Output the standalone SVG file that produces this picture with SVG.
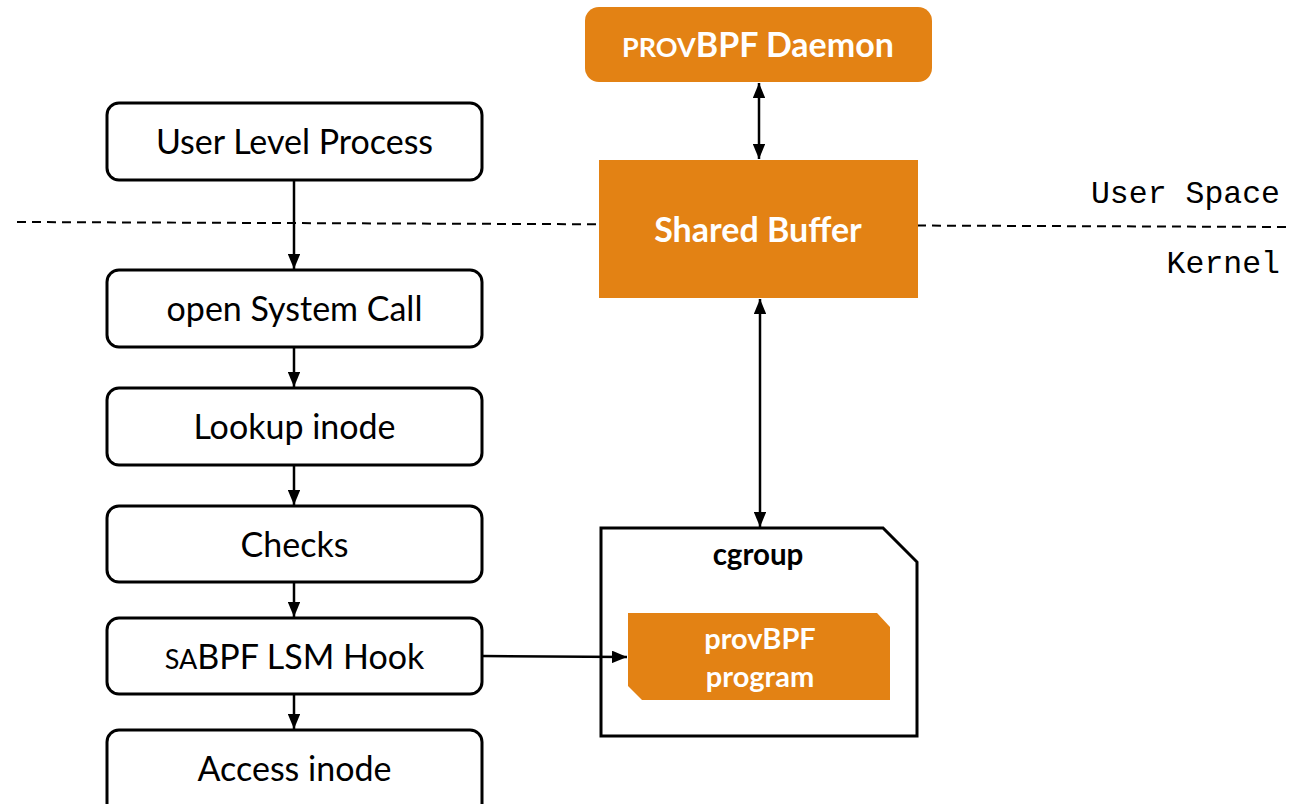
<svg xmlns="http://www.w3.org/2000/svg" width="1289" height="804" viewBox="0 0 1289 804">
<defs>
<marker id="ah" viewBox="0 0 12 10" refX="12" refY="5" markerWidth="6" markerHeight="5" orient="auto-start-reverse" markerUnits="strokeWidth">
<path d="M0,0 L12,5 L0,10 z" fill="#000"/>
</marker>
<style>
.box{fill:#fff;stroke:#000;stroke-width:3}
.lbl{font-family:Lato,"Open Sans",sans-serif;font-size:34px;fill:#000;text-anchor:middle}
.org{fill:#E38214}
.wb{font-family:Lato,"Open Sans",sans-serif;font-weight:bold;fill:#fff;text-anchor:middle}
.mono{font-family:"Liberation Mono",monospace;font-size:31.5px;fill:#000;text-anchor:end}
.conn{stroke:#000;stroke-width:2.5;fill:none}
</style>
</defs>
<rect width="1289" height="804" fill="#fff"/>
<g id="divider">
<line x1="17" y1="222" x2="1289" y2="227" stroke="#000" stroke-width="2" stroke-dasharray="9,6"/>
<text class="mono" x="1280" y="203">User Space</text>
<text class="mono" x="1280" y="273">Kernel</text>
</g>
<g id="n1"><rect class="box" x="107" y="103" width="375" height="77" rx="12"/><text class="lbl" x="294.5" y="154">User Level Process</text></g>
<g id="n2"><rect class="box" x="107" y="270" width="375" height="77" rx="12"/><text class="lbl" x="294.5" y="321">open System Call</text></g>
<g id="n3"><rect class="box" x="107" y="388" width="375" height="77" rx="12"/><text class="lbl" x="294.5" y="439">Lookup inode</text></g>
<g id="n4"><rect class="box" x="107" y="506" width="375" height="76" rx="12"/><text class="lbl" x="294.5" y="557">Checks</text></g>
<g id="n5"><rect class="box" x="107" y="618" width="375" height="76" rx="12"/><text class="lbl" x="294.5" y="669"><tspan font-size="27px">SA</tspan>BPF LSM Hook</text></g>
<g id="n6"><rect class="box" x="107" y="730" width="375" height="90" rx="12"/><text class="lbl" x="294.5" y="781">Access inode</text></g>
<g id="daemon"><rect class="org" x="585" y="7" width="347" height="75" rx="14"/><text class="wb" x="758" y="57" font-size="34px"><tspan font-size="27px">PROV</tspan>BPF Daemon</text></g>
<g id="buffer"><rect class="org" x="599" y="160" width="319" height="138"/><text class="wb" x="758" y="242" font-size="34px">Shared Buffer</text></g>
<g id="cgroup">
<path d="M601,528 L883,528 L917,562 L917,736 L601,736 Z" fill="#fff" stroke="#000" stroke-width="3"/>
<text x="758" y="565" font-family="Lato,'Open Sans',sans-serif" font-weight="bold" font-size="29.5px" text-anchor="middle" fill="#000">cgroup</text>
</g>
<g id="program">
<path class="org" d="M628,613 L877,613 L890,627 L890,700 L642,700 L628,686 Z"/>
<text class="wb" x="760" y="649" font-size="29px">provBPF</text>
<text class="wb" x="760" y="687" font-size="29px">program</text>
</g>
<g id="connectors">
<line class="conn" x1="294" y1="180" x2="294" y2="269" marker-end="url(#ah)"/>
<line class="conn" x1="294" y1="347" x2="294" y2="387" marker-end="url(#ah)"/>
<line class="conn" x1="294" y1="465" x2="294" y2="505" marker-end="url(#ah)"/>
<line class="conn" x1="294" y1="582" x2="294" y2="617" marker-end="url(#ah)"/>
<line class="conn" x1="294" y1="694" x2="294" y2="729" marker-end="url(#ah)"/>
<line class="conn" x1="482" y1="656" x2="627" y2="657" marker-end="url(#ah)"/>
<line class="conn" x1="759" y1="83" x2="759" y2="159" marker-start="url(#ah)" marker-end="url(#ah)"/>
<line class="conn" x1="760" y1="299" x2="760" y2="527" marker-start="url(#ah)" marker-end="url(#ah)"/>
</g>
</svg>
